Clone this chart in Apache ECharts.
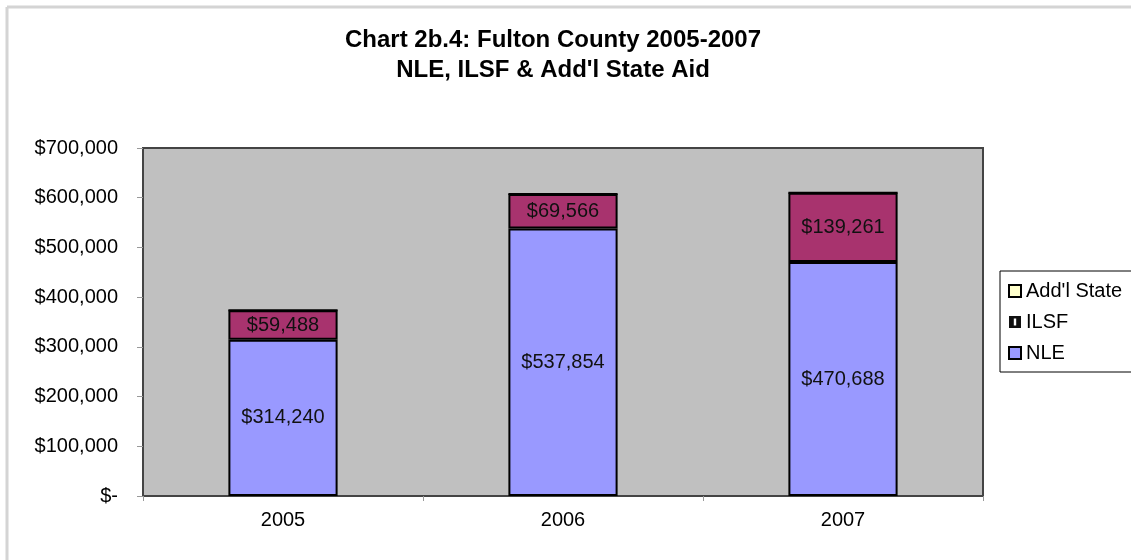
<!DOCTYPE html>
<html>
<head>
<meta charset="utf-8">
<title>Chart 2b.4: Fulton County 2005-2007</title>
<script src="https://cdn.jsdelivr.net/npm/echarts@6/dist/echarts.min.js"></script>
<style>
  html, body { margin: 0; padding: 0; background: #fff; }
  #chart { width: 1131px; height: 560px; }
</style>
</head>
<body>
<div id="chart"></div>
<script>
const years = ['2005', '2006', '2007']
const nle = [314240, 537854, 470688]
const ilsf = [59488, 69566, 139261]
const addlState = [0, 0, 0]
const yTicks = [0, 100000, 200000, 300000, 400000, 500000, 600000, 700000]

const font = 'Arial, "Liberation Sans", sans-serif'

function money(v) {
  return v === 0 ? '$-' : '$' + v.toLocaleString('en-US')
}

const chart = echarts.init(document.getElementById('chart'))

chart.setOption({
  animation: false,
  backgroundColor: '#fff',
  textStyle: { fontFamily: font },
  title: {
    text: "Chart 2b.4: Fulton County 2005-2007\nNLE, ILSF & Add'l State Aid",
    left: 548,
    textAlign: 'center',
    top: 20,
    textStyle: { fontSize: 24, fontWeight: 'bold', color: '#000', lineHeight: 30, fontFamily: font }
  },
  graphic: [
    { type: 'line', shape: { x1: 7, y1: 7, x2: 1131, y2: 7 }, style: { stroke: '#d4d4d4', lineWidth: 3 } },
    { type: 'line', shape: { x1: 7, y1: 7, x2: 7, y2: 560 }, style: { stroke: '#d4d4d4', lineWidth: 3 } }
  ],
  legend: {
    orient: 'vertical',
    left: 1000,
    top: 271,
    padding: [10, 40, 9, 8],
    backgroundColor: '#fff',
    borderColor: '#000',
    borderWidth: 1,
    itemWidth: 12,
    itemHeight: 12,
    itemGap: 11,
    textStyle: { fontSize: 20, color: '#000', fontFamily: font },
    data: [
      { name: "Add'l State", icon: 'rect' },
      {
        name: 'ILSF',
        icon: 'path://M0,0 L10,0 L10,10 L0,10 Z M4,2 L4,8 L6,8 L6,2 Z',
        itemStyle: { color: '#111', borderWidth: 0 }
      },
      { name: 'NLE', icon: 'rect' }
    ]
  },
  grid: {
    left: 143,
    right: 148,
    top: 148,
    bottom: 64,
    show: true,
    backgroundColor: '#c0c0c0',
    borderColor: '#444',
    borderWidth: 2
  },
  xAxis: {
    type: 'category',
    data: years,
    axisLine: { show: false },
    axisTick: { show: true, length: 5, lineStyle: { color: '#999' } },
    axisLabel: { color: '#000', fontSize: 20, margin: 14 }
  },
  yAxis: {
    type: 'value',
    min: 0,
    max: 700000,
    interval: 100000,
    axisLine: { show: false },
    axisTick: { show: true, length: 6, lineStyle: { color: '#999' } },
    splitLine: { show: false },
    axisLabel: {
      color: '#000',
      fontSize: 20,
      margin: 25,
      customValues: yTicks,
      formatter: money
    }
  },
  series: [
    {
      name: 'NLE',
      type: 'bar',
      stack: 'aid',
      data: nle,
      barWidth: '39%',
      itemStyle: { color: '#9999ff', borderColor: '#000', borderWidth: 2 },
      label: { show: true, position: 'inside', color: '#111', fontSize: 20, formatter: (p) => money(p.value) }
    },
    {
      name: 'ILSF',
      type: 'bar',
      stack: 'aid',
      data: ilsf,
      barWidth: '39%',
      itemStyle: { color: '#a8336e', borderColor: '#000', borderWidth: 2 },
      label: { show: true, position: 'inside', color: '#111', fontSize: 20, formatter: (p) => money(p.value) }
    },
    {
      name: "Add'l State",
      type: 'bar',
      stack: 'aid',
      data: addlState,
      barWidth: '39%',
      itemStyle: { color: '#ffffcc', borderColor: '#000', borderWidth: 2 }
    }
  ]
})
</script>
</body>
</html>
